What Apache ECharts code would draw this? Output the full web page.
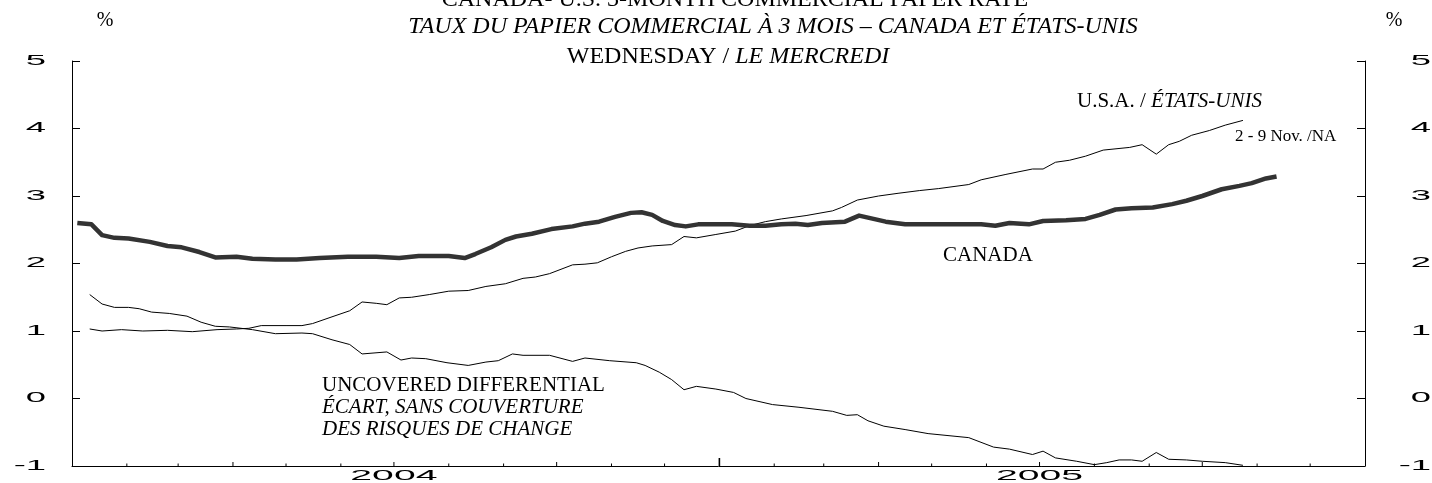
<!DOCTYPE html>
<html>
<head>
<meta charset="utf-8">
<style>
  html, body { margin: 0; padding: 0; background: #fff; }
  #chart { width: 1432px; height: 483px; }
</style>
<script src="https://cdn.jsdelivr.net/npm/echarts@6.0.0/dist/echarts.min.js"></script>
</head>
<body>
<div id="chart"></div>
<script>
// Canada 3-month commercial paper rate (weekly, %)
const CANADA = [
  ['2004-01-04', 2.60], ['2004-01-12', 2.58], ['2004-01-18', 2.42], ['2004-01-25', 2.38],
  ['2004-02-02', 2.37], ['2004-02-14', 2.32], ['2004-02-24', 2.26], ['2004-03-03', 2.24],
  ['2004-03-13', 2.17], ['2004-03-22', 2.09], ['2004-04-03', 2.10], ['2004-04-12', 2.07],
  ['2004-04-25', 2.06], ['2004-05-07', 2.06], ['2004-05-20', 2.08], ['2004-06-05', 2.10],
  ['2004-06-21', 2.10], ['2004-07-04', 2.08], ['2004-07-15', 2.11], ['2004-08-01', 2.11],
  ['2004-08-10', 2.08], ['2004-08-16', 2.14], ['2004-08-25', 2.24], ['2004-09-02', 2.35],
  ['2004-09-08', 2.40], ['2004-09-17', 2.44], ['2004-09-28', 2.51], ['2004-10-10', 2.55],
  ['2004-10-17', 2.59], ['2004-10-25', 2.62], ['2004-11-03', 2.69], ['2004-11-12', 2.75],
  ['2004-11-18', 2.76], ['2004-11-24', 2.72], ['2004-11-30', 2.63], ['2004-12-07', 2.57],
  ['2004-12-13', 2.55], ['2004-12-20', 2.58], ['2004-12-30', 2.58], ['2005-01-08', 2.58],
  ['2005-01-18', 2.56], ['2005-01-27', 2.56], ['2005-02-05', 2.58], ['2005-02-13', 2.59],
  ['2005-02-20', 2.57], ['2005-02-28', 2.60], ['2005-03-13', 2.62], ['2005-03-21', 2.71],
  ['2005-03-26', 2.68], ['2005-04-05', 2.62], ['2005-04-16', 2.58], ['2005-04-29', 2.58],
  ['2005-05-16', 2.58], ['2005-05-29', 2.58], ['2005-06-06', 2.56], ['2005-06-14', 2.60],
  ['2005-06-25', 2.58], ['2005-07-03', 2.63], ['2005-07-16', 2.64], ['2005-07-27', 2.66],
  ['2005-08-04', 2.72], ['2005-08-13', 2.80], ['2005-08-22', 2.82], ['2005-09-03', 2.83],
  ['2005-09-14', 2.88], ['2005-09-22', 2.93], ['2005-10-01', 3.00], ['2005-10-12', 3.10],
  ['2005-10-22', 3.15], ['2005-10-29', 3.19], ['2005-11-06', 3.26], ['2005-11-12', 3.29]
];

// U.S. 3-month commercial paper rate (weekly, %) - 2 and 9 Nov. not available
const USA = [
  ['2004-01-11', 1.03], ['2004-01-18', 1.00], ['2004-01-29', 1.02], ['2004-02-10', 1.00],
  ['2004-02-24', 1.01], ['2004-03-09', 0.99], ['2004-03-23', 1.02], ['2004-04-03', 1.03],
  ['2004-04-10', 1.04], ['2004-04-17', 1.08], ['2004-05-01', 1.08], ['2004-05-10', 1.08],
  ['2004-05-16', 1.11], ['2004-05-27', 1.21], ['2004-06-06', 1.30], ['2004-06-13', 1.43],
  ['2004-06-21', 1.41], ['2004-06-27', 1.39], ['2004-07-04', 1.49], ['2004-07-11', 1.50],
  ['2004-07-21', 1.54], ['2004-08-01', 1.59], ['2004-08-12', 1.60], ['2004-08-22', 1.66],
  ['2004-09-02', 1.70], ['2004-09-12', 1.78], ['2004-09-19', 1.80], ['2004-09-27', 1.85],
  ['2004-10-10', 1.98], ['2004-10-17', 1.99], ['2004-10-24', 2.01], ['2004-11-01', 2.10],
  ['2004-11-09', 2.18], ['2004-11-16', 2.23], ['2004-11-24', 2.26], ['2004-12-05', 2.28],
  ['2004-12-12', 2.40], ['2004-12-19', 2.38], ['2004-12-30', 2.43], ['2005-01-10', 2.48],
  ['2005-01-18', 2.56], ['2005-01-27', 2.62], ['2005-02-05', 2.66], ['2005-02-19', 2.71],
  ['2005-03-06', 2.78], ['2005-03-11', 2.83], ['2005-03-20', 2.94], ['2005-04-01', 3.00],
  ['2005-04-12', 3.04], ['2005-04-24', 3.08], ['2005-05-05', 3.11], ['2005-05-22', 3.17],
  ['2005-05-29', 3.24], ['2005-06-12', 3.32], ['2005-06-27', 3.40], ['2005-07-03', 3.40],
  ['2005-07-10', 3.50], ['2005-07-18', 3.53], ['2005-07-27', 3.59], ['2005-08-06', 3.68],
  ['2005-08-21', 3.72], ['2005-08-28', 3.76], ['2005-09-05', 3.62], ['2005-09-12', 3.76],
  ['2005-09-18', 3.81], ['2005-09-25', 3.90], ['2005-10-05', 3.97], ['2005-10-14', 4.05],
  ['2005-10-24', 4.12]
];

// Uncovered differential, Canada minus U.S. (percentage points)
const DIFFERENTIAL = [
  ['2004-01-11', 1.54], ['2004-01-18', 1.40], ['2004-01-25', 1.35], ['2004-02-02', 1.35],
  ['2004-02-08', 1.33], ['2004-02-15', 1.28], ['2004-02-25', 1.26], ['2004-03-06', 1.22],
  ['2004-03-14', 1.13], ['2004-03-22', 1.07], ['2004-03-30', 1.06], ['2004-04-12', 1.02],
  ['2004-04-25', 0.96], ['2004-05-10', 0.97], ['2004-05-16', 0.96], ['2004-05-27', 0.87],
  ['2004-06-06', 0.80], ['2004-06-13', 0.66], ['2004-06-27', 0.69], ['2004-07-05', 0.57],
  ['2004-07-11', 0.60], ['2004-07-19', 0.59], ['2004-07-31', 0.53], ['2004-08-12', 0.49],
  ['2004-08-22', 0.54], ['2004-08-29', 0.56], ['2004-09-06', 0.66], ['2004-09-12', 0.64],
  ['2004-09-27', 0.64], ['2004-10-10', 0.55], ['2004-10-17', 0.60], ['2004-10-31', 0.56],
  ['2004-11-15', 0.53], ['2004-11-20', 0.49], ['2004-11-28', 0.39], ['2004-12-05', 0.28],
  ['2004-12-12', 0.13], ['2004-12-19', 0.18], ['2004-12-30', 0.14], ['2005-01-09', 0.09],
  ['2005-01-16', 0.00], ['2005-01-31', -0.09], ['2005-02-15', -0.13], ['2005-03-06', -0.19],
  ['2005-03-14', -0.25], ['2005-03-20', -0.24], ['2005-03-26', -0.33], ['2005-04-04', -0.41],
  ['2005-04-16', -0.46], ['2005-04-29', -0.52], ['2005-05-22', -0.58], ['2005-06-05', -0.72],
  ['2005-06-14', -0.75], ['2005-06-27', -0.83], ['2005-07-03', -0.78], ['2005-07-10', -0.88],
  ['2005-07-22', -0.93], ['2005-08-01', -0.98], ['2005-08-08', -0.95], ['2005-08-15', -0.91],
  ['2005-08-22', -0.91], ['2005-08-28', -0.93], ['2005-09-05', -0.80], ['2005-09-12', -0.90],
  ['2005-09-22', -0.91], ['2005-10-01', -0.93], ['2005-10-14', -0.95], ['2005-10-24', -0.99]
];

// axis ticks and labels
const Y_TICKS = [5, 4, 3, 2, 1, 0, -1];
const Y_TICK_LABELS = ['5', '4', '3', '2', '1', '0', '-1'];
const YEAR_LABELS = ['2004', '2005'];
const YEAR_LABEL_DATES = ['2004-07-01', '2005-07-01'];

const chart = echarts.init(document.getElementById('chart'));

// monthly ticks along the bottom axis (long at year, medium at quarter)
const monthTicks = [];
for (let y = 2004; y <= 2005; y++) {
  for (let m = 0; m < 12; m++) {
    if (y === 2004 && m === 0) continue;
    const len = m === 0 ? 8 : (m % 3 === 0 ? 4 : 2.5);
    monthTicks.push([y + '-' + String(m + 1).padStart(2, '0') + '-01', -1, len]);
  }
}

const SERIF = '"Liberation Serif", "Times New Roman", serif';

const yAxisBase = {
  type: 'value',
  min: -1,
  max: 5,
  interval: 1,
  axisLine: { show: true, lineStyle: { color: '#000', width: 1 } },
  axisTick: { show: true, inside: true, length: 8, lineStyle: { color: '#000' } },
  axisLabel: { show: false },
  splitLine: { show: false }
};

chart.setOption({
  animation: false,
  backgroundColor: '#fff',
  grid: { left: 72, right: 67, top: 61, bottom: 17 },
  xAxis: {
    type: 'time',
    min: '2004-01-01',
    max: '2006-01-01',
    axisLine: { show: true, onZero: false, lineStyle: { color: '#000', width: 1 } },
    axisTick: { show: false },
    axisLabel: { show: false },
    splitLine: { show: false }
  },
  yAxis: [
    Object.assign({ position: 'left' }, yAxisBase),
    Object.assign({ position: 'right' }, yAxisBase)
  ],
  series: [
    {
      name: 'U.S.A.',
      type: 'line',
      data: USA,
      symbol: 'none',
      lineStyle: { color: '#000', width: 1 }
    },
    {
      name: 'Uncovered differential',
      type: 'line',
      data: DIFFERENTIAL,
      symbol: 'none',
      lineStyle: { color: '#000', width: 1 }
    },
    {
      name: 'Canada',
      type: 'line',
      data: CANADA,
      symbol: 'none',
      lineStyle: { color: '#333', width: 4.5, join: 'round' }
    },
    {
      name: 'ticks',
      type: 'custom',
      silent: true,
      clip: false,
      data: monthTicks,
      encode: { x: 0, y: 1 },
      renderItem: (params, api) => {
        const p = api.coord([api.value(0), -1]);
        const len = api.value(2);
        return {
          type: 'line',
          shape: { x1: p[0], y1: p[1], x2: p[0], y2: p[1] - len },
          style: { stroke: '#000', lineWidth: len > 5 ? 1.6 : 1 }
        };
      }
    }
  ]
});

// wide, flat digits for the axis numbers (as in the original)
const digitStyle = (text, align) => ({
  text: text,
  x: 0,
  y: 0,
  fontFamily: '"Liberation Sans", Arial, sans-serif',
  fontSize: 14,
  fill: '#000',
  align: align,
  textAlign: align,
  verticalAlign: 'middle',
  textVerticalAlign: 'middle'
});

const labels = [];
Y_TICKS.forEach((v, i) => {
  const py = chart.convertToPixel({ yAxisIndex: 0 }, v);
  labels.push({ type: 'text', x: 46, y: py, scaleX: 2.6, silent: true, style: digitStyle(Y_TICK_LABELS[i], 'right') });
  labels.push({ type: 'text', x: 1431, y: py, scaleX: 2.6, silent: true, style: digitStyle(Y_TICK_LABELS[i], 'right') });
});
YEAR_LABELS.forEach((t, i) => {
  const px = chart.convertToPixel({ xAxisIndex: 0 }, YEAR_LABEL_DATES[i]);
  labels.push({ type: 'text', x: px, y: 476, scaleX: 2.8, silent: true, style: digitStyle(t, 'center') });
});

const txt = (x, y, text, opts) => ({
  type: 'text',
  x: x,
  y: y,
  silent: true,
  style: Object.assign({
    text: text,
    fontFamily: SERIF,
    fontSize: 21,
    fill: '#000',
    align: 'left',
    textAlign: 'left',
    verticalAlign: 'middle',
    textVerticalAlign: 'middle'
  }, opts || {})
});

const notes = [
  // titles
  txt(735, 0, 'CANADA- U.S. 3-MONTH COMMERCIAL PAPER RATE', { fontSize: 24, align: 'center', textAlign: 'center' }),
  txt(773, 27, 'TAUX DU PAPIER COMMERCIAL À 3 MOIS – CANADA ET ÉTATS-UNIS', { fontSize: 24, fontStyle: 'italic', align: 'center', textAlign: 'center' }),
  txt(728, 57, '{n|WEDNESDAY / }{i|LE MERCREDI}', {
    fontSize: 24, align: 'center', textAlign: 'center',
    rich: {
      n: { fontFamily: SERIF, fontSize: 24, fill: '#000' },
      i: { fontFamily: SERIF, fontSize: 24, fontStyle: 'italic', fill: '#000' }
    }
  }),
  // unit marks
  txt(105, 21, '%', { fontSize: 20, align: 'center', textAlign: 'center' }),
  txt(1394, 21, '%', { fontSize: 20, align: 'center', textAlign: 'center' }),
  // series labels
  txt(1077, 101, '{n|U.S.A. / }{i|ÉTATS-UNIS}', {
    rich: {
      n: { fontFamily: SERIF, fontSize: 21, fill: '#000' },
      i: { fontFamily: SERIF, fontSize: 21, fontStyle: 'italic', fill: '#000' }
    }
  }),
  txt(1235, 137, '2 - 9 Nov. /NA', { fontSize: 17 }),
  txt(943, 255, 'CANADA'),
  txt(322, 374, '{n|UNCOVERED DIFFERENTIAL}\n{i|ÉCART, SANS COUVERTURE}\n{i|DES RISQUES DE CHANGE}', {
    verticalAlign: 'top',
    textVerticalAlign: 'top',
    lineHeight: 22,
    rich: {
      n: { fontFamily: SERIF, fontSize: 21, lineHeight: 22, fill: '#000' },
      i: { fontFamily: SERIF, fontSize: 21, lineHeight: 22, fontStyle: 'italic', fill: '#000' }
    }
  })
];

chart.setOption({ graphic: { elements: labels.concat(notes) } });
</script>
</body>
</html>
